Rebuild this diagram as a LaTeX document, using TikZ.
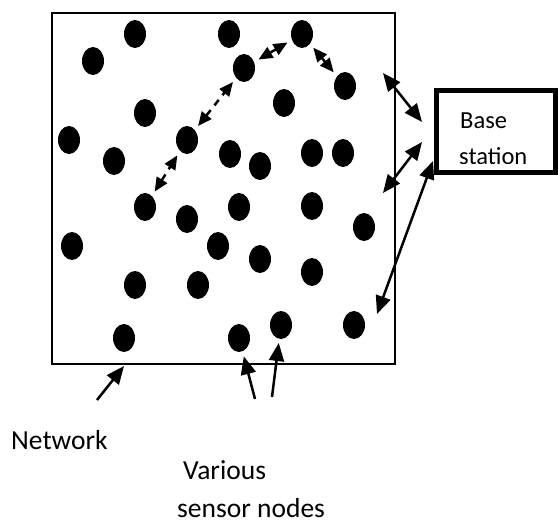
\documentclass[tikz,border=0pt]{standalone}
\usepackage{fontspec}
\setmainfont{Carlito}
\usetikzlibrary{shapes.geometric,arrows.meta}
\begin{document}
\begin{tikzpicture}[x=1pt,y=-1pt,
 dot/.style={ellipse,fill=black,minimum width=22pt,minimum height=28pt,inner sep=0pt},
 tipA/.tip={Triangle[length=18pt,width=15pt]},
 tipB/.tip={Triangle[length=14pt,width=12pt]},
 link/.style={line width=2.5pt,tipA-tipA},
 dlink/.style={line width=2.5pt,tipB-tipB,dash pattern=on 7pt off 6pt,shorten <=5pt,shorten >=5pt},
 pointer/.style={line width=2.5pt,-tipA},
 lbl/.style={font=\fontsize{27.5}{32}\selectfont,inner sep=0pt,anchor=base west},
 bslbl/.style={font=\fontsize{24.5}{30}\selectfont,inner sep=0pt,anchor=base west},
]
\useasboundingbox (0,0) rectangle (558,524);
% network area
\node[draw,line width=2pt,inner sep=0pt,outer sep=0pt,minimum width=343pt,minimum height=351pt,anchor=north west] (net) at (52,13) {};
% sensor nodes
\node[dot] (n1) at (135,34) {};
\node[dot] (n2) at (229,34) {};
\node[dot] (dD) at (302,34) {};
\node[dot] (n4) at (93,61) {};
\node[dot] (dC) at (244,68) {};
\node[dot] (dE) at (345,86) {};
\node[dot] (n7) at (284,103) {};
\node[dot] (n8) at (145,113) {};
\node[dot] (n9) at (69,140) {};
\node[dot] (dB) at (187,140) {};
\node[dot] (n11) at (114,161) {};
\node[dot] (n12) at (230,154) {};
\node[dot] (n13) at (260,166) {};
\node[dot] (n14) at (312,153) {};
\node[dot] (n15) at (343,153) {};
\node[dot] (dA) at (145,207) {};
\node[dot] (n17) at (187,219) {};
\node[dot] (n18) at (239,207) {};
\node[dot] (n19) at (312,206) {};
\node[dot] (n20) at (364,227) {};
\node[dot] (n21) at (72,246) {};
\node[dot] (n22) at (218,246) {};
\node[dot] (n23) at (260,259) {};
\node[dot] (n24) at (135,285) {};
\node[dot] (n25) at (198,285) {};
\node[dot] (n26) at (312,272) {};
\node[dot] (s1) at (124,338) {};
\node[dot] (s2) at (239,338) {};
\node[dot] (s3) at (281,325) {};
\node[dot] (n30) at (354,325) {};
% multi-hop path
\draw[dlink] (dA) -- (dB);
\draw[dlink] (dB) -- (dC);
\draw[dlink] (dC) -- (dD);
\draw[dlink] (dD) -- (dE);
% base station
\node[draw,line width=5pt,inner sep=0pt,outer sep=0pt,minimum width=119pt,minimum height=82pt,anchor=north west] (bs) at (436.5,90.5) {};
\node[bslbl] (base) at (460,128.3) {Base};
\begin{scope}
\clip (440,140) rectangle (550,163.3);
\node[bslbl] (station) at (459,165) {station};
\end{scope}
% links to base station
\coordinate (a1) at (383,73);
\coordinate (b1) at (422,122);
\coordinate (a2) at (383,193);
\coordinate (b2) at (422,142);
\coordinate (a3) at (377,314);
\coordinate (b3) at (433,161);
\draw[link] (a1) -- (b1);
\draw[link] (a2) -- (b2);
\draw[link] (a3) -- (b3);
% labels and pointers
\coordinate (p0) at (97,400);
\coordinate (q0) at (124,366);
\coordinate (p1) at (255,399);
\coordinate (p2) at (272,397);
\draw[pointer] (p0) -- (q0);
\draw[pointer,shorten >=5pt] (p1) -- (s2);
\draw[pointer,shorten >=4pt] (p2) -- (s3);
\node[lbl] (network) at (11,449.3) {Network};
\node[lbl] (various) at (183,479) {Various};
\node[lbl] (sensors) at (177,518) {sensor nodes};
\end{tikzpicture}
\end{document}
